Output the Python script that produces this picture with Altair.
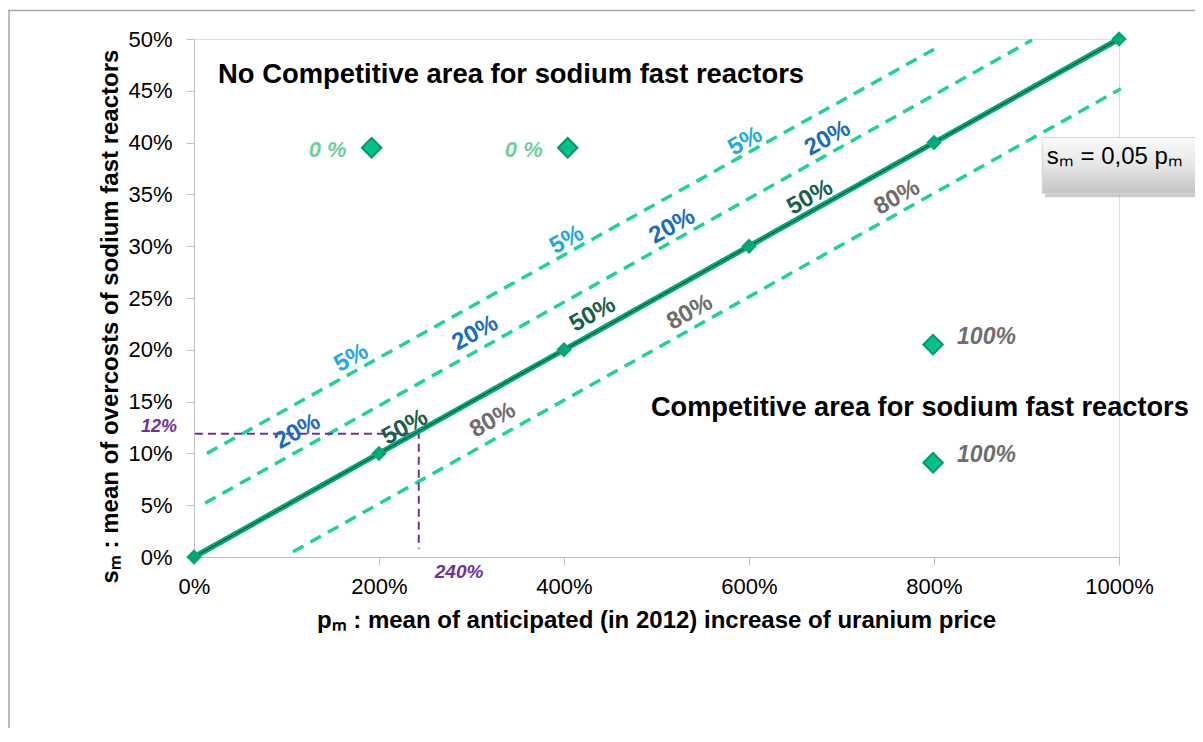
import altair as alt
import pandas as pd

# ---------------- data ----------------
x_ticks = [0, 200, 400, 600, 800, 1000]
y_ticks = [0, 5, 10, 15, 20, 25, 30, 35, 40, 45, 50]

# s_m = 0.05 p_m reference line
main_p = [0, 200, 400, 600, 800, 1000]
main_s = [0, 10, 20, 30, 40, 50]

# dashed iso-probability lines (end points)
band_names = ["upper", "middle", "lower"]
band_p = [[14, 800], [12, 906], [107, 1002]]
band_s = [[10.0, 49.0], [5.2, 49.9], [0.5, 45.2]]

# isolated points
zero_p = [192, 404]
zero_s = [39.5, 39.5]
zero_lab = ["0 %", "0 %"]
full_p = [799, 799]
full_s = [20.5, 9.1]
full_lab = ["100%", "100%"]

# labels along the lines
lab5_p = [170, 403, 596]
lab5_s = [19.2, 30.6, 40.1]
lab20_p = [112, 304, 517, 685]
lab20_s = [12.1, 21.6, 31.9, 40.4]
lab50_p = [228, 431, 666]
lab50_s = [12.5, 23.4, 34.7]
lab80_p = [323, 536, 760]
lab80_s = [13.2, 23.6, 34.7]

# reading example (240 %, 12 %)
read_p = [1, 243, 243]
read_s = [11.9, 11.9, 0.8]
read_label_12 = "12%"
read_label_240 = "240%"

# annotation anchors (data coordinates)
no_comp_text = "No Competitive area for sodium fast reactors"
no_comp_at = (26, 46.5)
comp_text = "Competitive area for sodium fast reactors"
comp_at = (494, 14.4)
eq_text = "sₘ = 0,05 pₘ"
eq_at = (922, 38.6)
eq_box_p = (917, 1098)
eq_box_s = (40.5, 35.1)

x_title = "pₘ : mean of anticipated (in 2012) increase of uranium price"
y_title = "sₘ : mean of overcosts of sodium fast reactors"

FONT = "Liberation Sans"
ANGLE = 331

# ---------------- scales / axes ----------------
XS = alt.Scale(domain=[0, 1000], nice=False, zero=False)
YS = alt.Scale(domain=[0, 50], nice=False, zero=False)
xaxis = alt.Axis(values=x_ticks, labelExpr="datum.value + '%'", grid=False,
                 labelFlush=False, labelOverlap=False,
                 tickSize=8, labelPadding=11, labelFontSize=22, labelFont=FONT,
                 labelColor="#000000", domainColor="#bfbfbf", tickColor="#bfbfbf",
                 title=x_title, titleFont=FONT, titleFontSize=24, titleFontWeight="bold",
                 titleColor="#000000", titleBaseline="middle", titleY=63, titleX=462)
yaxis = alt.Axis(values=y_ticks, labelExpr="datum.value + '%'", grid=False,
                 labelFlush=False, labelOverlap=False,
                 tickSize=8, labelPadding=14, labelFontSize=22, labelFont=FONT,
                 labelColor="#000000", domainColor="#bfbfbf", tickColor="#bfbfbf",
                 title=y_title, titleFont=FONT, titleFontSize=24, titleFontWeight="bold",
                 titleColor="#000000", titleAngle=270, titleBaseline="middle",
                 titleAlign="center", titleX=-84, titleY=277)


def X(f="p"):
    return alt.X(f"{f}:Q", scale=XS, axis=xaxis)


def Y(f="s"):
    return alt.Y(f"{f}:Q", scale=YS, axis=yaxis)


def df(p, s, **extra):
    d = {"p": p, "s": s}
    d.update(extra)
    return pd.DataFrame(d)


layers = []

# frame (left and top edges of the chart border)
one = pd.DataFrame({"k": [0]})
layers.append(alt.Chart(one).mark_rule(color="#a6a6a6", strokeWidth=1.5).encode(
    x=alt.value(-185), y=alt.value(-29), y2=alt.value(720)))
layers.append(alt.Chart(one).mark_rule(color="#a6a6a6", strokeWidth=1.5).encode(
    y=alt.value(-28.5), x=alt.value(-186), x2=alt.value(1010)))

# dashed lines
rows = []
for name, ps, ss in zip(band_names, band_p, band_s):
    for p, s in zip(ps, ss):
        rows.append({"band": name, "p": p, "s": s})
bands = pd.DataFrame(rows)
layers.append(alt.Chart(bands).mark_line(color="#1dd29b", strokeWidth=3.5,
                                         strokeDash=[12, 8]).encode(
    x=X(), y=Y(), detail="band:N"))

# purple reading lines
read = df(read_p, read_s, i=list(range(len(read_p))))
layers.append(alt.Chart(read).mark_line(color="#7030a0", strokeWidth=2,
                                        strokeDash=[8, 5]).encode(
    x=X(), y=Y(), order="i:Q"))

# main line
main = df(main_p, main_s)
layers.append(alt.Chart(main).mark_line(color="#00a878", strokeWidth=5.5).encode(x=X(), y=Y()))
layers.append(alt.Chart(main).mark_line(color="#173d2e", strokeWidth=1).encode(x=X(), y=Y()))
layers.append(alt.Chart(main).mark_point(shape="diamond", filled=True, size=240,
                                         color="#00a878", opacity=1).encode(x=X(), y=Y()))

# isolated points
pts = pd.concat([df(zero_p, zero_s), df(full_p, full_s)])
layers.append(alt.Chart(pts).mark_point(shape="diamond", filled=True, size=380,
                                        fill="#00c08b", stroke="#009a6c",
                                        strokeWidth=2, opacity=1).encode(x=X(), y=Y()))
layers.append(alt.Chart(df(zero_p, zero_s, t=zero_lab)).mark_text(
    align="right", baseline="middle", dx=-25, dy=2, font=FONT, fontSize=22,
    fontStyle="italic", fontWeight="bold", color="#6fcf9c").encode(x=X(), y=Y(), text="t:N"))
layers.append(alt.Chart(df(full_p, full_s, t=full_lab)).mark_text(
    align="left", baseline="middle", dx=24, dy=-8, font=FONT, fontSize=23,
    fontStyle="italic", fontWeight="bold", color="#6e6e6e").encode(x=X(), y=Y(), text="t:N"))

# line labels
for ps, ss, txt, col in [(lab5_p, lab5_s, "5%", "#22a8e6"),
                         (lab20_p, lab20_s, "20%", "#1a6cc2"),
                         (lab50_p, lab50_s, "50%", "#17604a"),
                         (lab80_p, lab80_s, "80%", "#6d6d6d")]:
    layers.append(alt.Chart(df(ps, ss, t=[txt] * len(ps))).mark_text(
        align="center", baseline="middle", angle=ANGLE, font=FONT, fontSize=24,
        fontWeight="bold", color=col).encode(x=X(), y=Y(), text="t:N"))

# reading labels
layers.append(alt.Chart(df([read_p[0]], [read_s[0]], t=[read_label_12])).mark_text(
    align="right", baseline="middle", dx=-18, dy=-7, font=FONT, fontSize=18,
    fontStyle="italic", fontWeight="bold", color="#7030a0").encode(x=X(), y=Y(), text="t:N"))
layers.append(alt.Chart(df([read_p[1]], [read_s[2]], t=[read_label_240])).mark_text(
    align="left", baseline="middle", dx=16, dy=23, font=FONT, fontSize=19,
    fontStyle="italic", fontWeight="bold", color="#7030a0").encode(x=X(), y=Y(), text="t:N"))

# area annotations
layers.append(alt.Chart(df([no_comp_at[0]], [no_comp_at[1]], t=[no_comp_text])).mark_text(
    align="left", baseline="middle", font=FONT, fontSize=27.4, fontWeight="bold",
    color="#000000").encode(x=X(), y=Y(), text="t:N"))
layers.append(alt.Chart(df([comp_at[0]], [comp_at[1]], t=[comp_text])).mark_text(
    align="left", baseline="middle", font=FONT, fontSize=27.2, fontWeight="bold",
    color="#000000").encode(x=X(), y=Y(), text="t:N"))

# equation box
box = pd.DataFrame({"p": [eq_box_p[0]], "p2": [eq_box_p[1]],
                    "s": [eq_box_s[0]], "s2": [eq_box_s[1]]})
layers.append(alt.Chart(box).mark_rect(color="#8c8c8c", opacity=0.45, xOffset=3,
                                       x2Offset=3, yOffset=4, y2Offset=4).encode(
    x=X(), x2="p2:Q", y=Y(), y2="s2:Q"))
grad = alt.LinearGradient(gradient="linear",
                          stops=[alt.GradientStop(color="#fafafa", offset=0),
                                 alt.GradientStop(color="#e6e6e6", offset=0.5),
                                 alt.GradientStop(color="#c4c4c4", offset=1)],
                          x1=0, x2=0, y1=0, y2=1)
layers.append(alt.Chart(box).mark_rect(color=grad, stroke="#d4d4d4", strokeWidth=1).encode(
    x=X(), x2="p2:Q", y=Y(), y2="s2:Q"))
layers.append(alt.Chart(df([eq_at[0]], [eq_at[1]], t=[eq_text])).mark_text(
    align="left", baseline="middle", font=FONT, fontSize=24, color="#000000").encode(
    x=X(), y=Y(), text="t:N"))

chart = alt.layer(*layers).properties(
    width=925, height=518,
    autosize=alt.AutoSizeParams(type="none"),
    padding={"left": 186, "top": 31, "right": 76, "bottom": 171},
    background="#ffffff",
).configure_view(stroke=None).configure(font=FONT)

chart.save("out.html", embed_options={"renderer": "svg", "actions": False})
